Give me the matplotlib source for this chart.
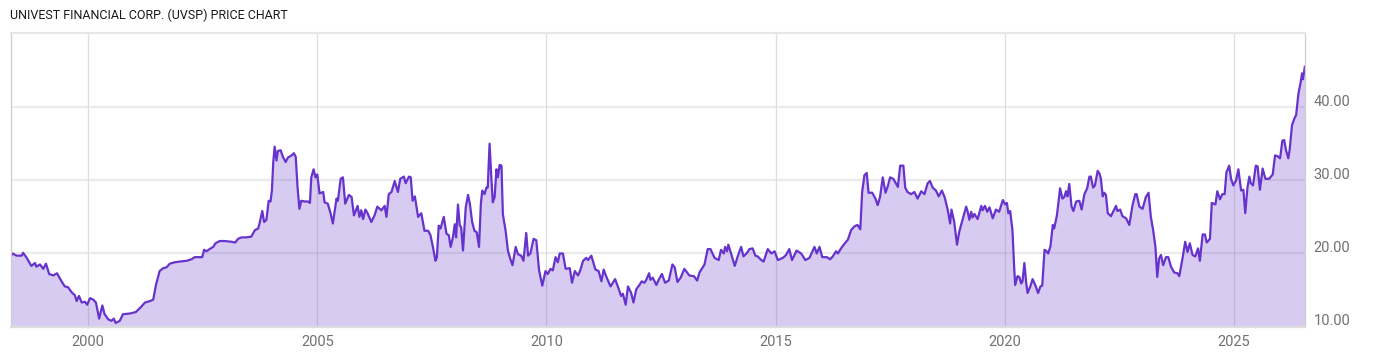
import matplotlib
matplotlib.use('Agg')
import matplotlib.pyplot as plt
from matplotlib.transforms import ScaledTranslation

# UVSP price history (decimal year, close)
years = [
    1998.31, 1998.35, 1998.44, 1998.55, 1998.58, 1998.66, 1998.76, 1998.84, 1998.87, 1998.95,
    1999.02, 1999.08, 1999.15, 1999.24, 1999.32, 1999.42, 1999.49, 1999.56, 1999.64, 1999.71,
    1999.75, 1999.80, 1999.86, 1999.93, 1999.98, 2000.04, 2000.11, 2000.17, 2000.24, 2000.31,
    2000.36, 2000.44, 2000.51, 2000.56, 2000.60, 2000.69, 2000.76, 2000.91, 2001.04, 2001.14,
    2001.24, 2001.35, 2001.42, 2001.48, 2001.56, 2001.64, 2001.71, 2001.78, 2001.89, 2002.00,
    2002.15, 2002.25, 2002.33, 2002.44, 2002.49, 2002.53, 2002.58, 2002.65, 2002.73, 2002.78,
    2002.87, 2002.98, 2003.13, 2003.21, 2003.27, 2003.35, 2003.45, 2003.56, 2003.64, 2003.71,
    2003.74, 2003.80, 2003.84, 2003.89, 2003.94, 2003.98, 2004.01, 2004.04, 2004.07, 2004.11,
    2004.14, 2004.20, 2004.25, 2004.31, 2004.36, 2004.44, 2004.49, 2004.53, 2004.57, 2004.61,
    2004.65, 2004.73, 2004.80, 2004.84, 2004.87, 2004.92, 2004.96, 2005.00, 2005.05, 2005.13,
    2005.16, 2005.23, 2005.29, 2005.34, 2005.42, 2005.45, 2005.51, 2005.56, 2005.61, 2005.69,
    2005.75, 2005.80, 2005.88, 2005.92, 2005.96, 2006.00, 2006.05, 2006.09, 2006.18, 2006.25,
    2006.31, 2006.40, 2006.47, 2006.51, 2006.56, 2006.62, 2006.69, 2006.76, 2006.81, 2006.89,
    2006.93, 2007.00, 2007.04, 2007.08, 2007.13, 2007.20, 2007.27, 2007.34, 2007.42, 2007.47,
    2007.52, 2007.58, 2007.61, 2007.65, 2007.69, 2007.76, 2007.82, 2007.87, 2007.91, 2007.96,
    2008.00, 2008.03, 2008.07, 2008.11, 2008.14, 2008.18, 2008.24, 2008.29, 2008.33, 2008.38,
    2008.43, 2008.48, 2008.53, 2008.57, 2008.60, 2008.65, 2008.69, 2008.72, 2008.76, 2008.80,
    2008.83, 2008.87, 2008.91, 2008.94, 2008.98, 2009.02, 2009.05, 2009.11, 2009.16, 2009.21,
    2009.26, 2009.33, 2009.38, 2009.45, 2009.50, 2009.56, 2009.60, 2009.65, 2009.72, 2009.78,
    2009.84, 2009.91, 2009.98, 2010.03, 2010.09, 2010.14, 2010.20, 2010.25, 2010.29, 2010.36,
    2010.42, 2010.51, 2010.56, 2010.62, 2010.69, 2010.74, 2010.80, 2010.87, 2010.91, 2010.98,
    2011.07, 2011.14, 2011.20, 2011.25, 2011.31, 2011.40, 2011.50, 2011.57, 2011.63, 2011.67,
    2011.73, 2011.78, 2011.85, 2011.90, 2011.96, 2012.03, 2012.08, 2012.14, 2012.18, 2012.24,
    2012.27, 2012.32, 2012.40, 2012.45, 2012.52, 2012.59, 2012.67, 2012.75, 2012.80, 2012.86,
    2012.93, 2013.01, 2013.12, 2013.22, 2013.29, 2013.34, 2013.45, 2013.52, 2013.58, 2013.67,
    2013.76, 2013.81, 2013.87, 2013.90, 2013.94, 2013.97, 2014.03, 2014.11, 2014.18, 2014.25,
    2014.30, 2014.38, 2014.43, 2014.50, 2014.56, 2014.61, 2014.69, 2014.74, 2014.83, 2014.91,
    2014.98, 2015.05, 2015.16, 2015.23, 2015.30, 2015.36, 2015.46, 2015.56, 2015.65, 2015.74,
    2015.85, 2015.90, 2015.96, 2016.02, 2016.12, 2016.19, 2016.25, 2016.32, 2016.36, 2016.43,
    2016.50, 2016.58, 2016.65, 2016.72, 2016.79, 2016.85, 2016.89, 2016.94, 2016.99, 2017.03,
    2017.11, 2017.18, 2017.23, 2017.28, 2017.34, 2017.40, 2017.45, 2017.50, 2017.57, 2017.67,
    2017.72, 2017.79, 2017.83, 2017.88, 2017.96, 2018.03, 2018.10, 2018.18, 2018.25, 2018.32,
    2018.37, 2018.43, 2018.50, 2018.56, 2018.63, 2018.69, 2018.76, 2018.81, 2018.84, 2018.90,
    2018.96, 2019.01, 2019.08, 2019.16, 2019.19, 2019.23, 2019.27, 2019.30, 2019.34, 2019.41,
    2019.49, 2019.52, 2019.57, 2019.62, 2019.67, 2019.74, 2019.81, 2019.88, 2019.96, 2020.01,
    2020.05, 2020.08, 2020.12, 2020.17, 2020.21, 2020.23, 2020.28, 2020.32, 2020.36, 2020.39,
    2020.43, 2020.47, 2020.50, 2020.56, 2020.61, 2020.68, 2020.73, 2020.78, 2020.82, 2020.87,
    2020.90, 2020.95, 2021.00, 2021.05, 2021.08, 2021.14, 2021.21, 2021.26, 2021.30, 2021.34,
    2021.37, 2021.41, 2021.46, 2021.50, 2021.56, 2021.63, 2021.68, 2021.74, 2021.80, 2021.85,
    2021.88, 2021.93, 2021.97, 2022.03, 2022.07, 2022.10, 2022.14, 2022.17, 2022.21, 2022.25,
    2022.32, 2022.39, 2022.43, 2022.46, 2022.52, 2022.57, 2022.65, 2022.72, 2022.79, 2022.85,
    2022.88, 2022.94, 2023.01, 2023.08, 2023.14, 2023.19, 2023.24, 2023.29, 2023.33, 2023.37,
    2023.41, 2023.46, 2023.52, 2023.57, 2023.63, 2023.70, 2023.77, 2023.81, 2023.88, 2023.94,
    2023.99, 2024.04, 2024.10, 2024.16, 2024.22, 2024.26, 2024.32, 2024.37, 2024.41, 2024.48,
    2024.52, 2024.60, 2024.64, 2024.70, 2024.75, 2024.80, 2024.84, 2024.90, 2024.94, 2024.99,
    2025.05, 2025.10, 2025.16, 2025.21, 2025.25, 2025.30, 2025.34, 2025.37, 2025.42, 2025.48,
    2025.52, 2025.57, 2025.63, 2025.69, 2025.77, 2025.85, 2025.90, 2025.95, 2026.01, 2026.06,
    2026.10, 2026.14, 2026.19, 2026.22, 2026.27, 2026.32, 2026.36, 2026.41, 2026.46, 2026.49,
    2026.51, 2026.55,
]
prices = [
    19.6, 20.0, 19.7, 19.7, 20.1, 19.4, 18.3, 18.7, 18.2, 18.5,
    17.9, 18.6, 17.2, 17.0, 17.3, 16.2, 15.5, 15.4, 14.7, 14.3,
    13.5, 14.2, 13.3, 13.4, 13.0, 13.9, 13.7, 13.3, 11.1, 12.9,
    11.7, 11.0, 10.8, 11.1, 10.5, 10.8, 11.7, 11.8, 12.0, 12.6,
    13.3, 13.5, 13.7, 15.7, 17.6, 18.0, 18.1, 18.6, 18.8, 18.9,
    19.0, 19.2, 19.5, 19.5, 19.5, 20.5, 20.3, 20.6, 20.9, 21.4,
    21.7, 21.7, 21.6, 21.5, 22.0, 22.2, 22.2, 22.3, 23.2, 23.4,
    24.1, 25.8, 24.3, 24.6, 27.2, 27.1, 28.6, 32.5, 34.6, 32.7,
    34.0, 34.1, 33.2, 32.5, 33.1, 33.4, 33.7, 33.2, 29.0, 26.1,
    27.2, 27.1, 27.1, 26.9, 30.4, 31.5, 30.4, 30.8, 28.2, 28.4,
    27.0, 26.8, 25.5, 24.1, 27.5, 27.2, 30.2, 30.4, 26.8, 28.0,
    27.7, 25.2, 26.5, 25.0, 25.9, 24.7, 26.0, 25.6, 24.3, 25.2,
    26.4, 25.9, 26.5, 25.0, 28.1, 28.4, 29.9, 28.4, 30.2, 30.5,
    29.6, 30.5, 30.4, 27.2, 27.8, 25.0, 25.5, 23.1, 23.1, 22.5,
    21.0, 19.0, 19.5, 23.8, 23.4, 25.0, 22.7, 22.5, 20.9, 22.2,
    24.0, 22.2, 26.7, 23.8, 23.6, 20.4, 26.3, 28.0, 26.8, 24.3,
    23.1, 22.9, 20.9, 26.8, 28.6, 28.1, 29.0, 29.0, 35.0, 30.2,
    27.0, 27.7, 31.5, 30.4, 32.1, 32.0, 25.4, 23.1, 20.4, 19.3,
    18.4, 20.9, 19.9, 19.7, 19.0, 22.8, 19.7, 20.0, 22.0, 21.8,
    17.7, 15.6, 17.6, 17.2, 17.9, 17.7, 19.5, 18.8, 20.0, 20.0,
    17.9, 18.0, 16.0, 17.6, 17.0, 17.7, 19.0, 19.4, 19.1, 19.7,
    17.8, 17.6, 16.2, 17.8, 16.8, 15.5, 16.5, 15.3, 14.2, 14.5,
    13.0, 15.5, 14.6, 13.3, 15.1, 15.7, 16.2, 16.0, 16.4, 17.3,
    16.4, 16.7, 15.7, 16.4, 17.2, 16.0, 16.3, 18.5, 18.1, 16.1,
    16.7, 17.9, 17.0, 16.9, 16.3, 17.4, 18.5, 20.6, 20.6, 19.4,
    19.1, 20.5, 20.0, 20.9, 20.3, 21.2, 20.0, 18.3, 19.7, 20.9,
    19.6, 20.1, 20.6, 20.7, 19.7, 19.6, 19.1, 18.9, 20.6, 20.0,
    20.3, 19.1, 19.4, 19.8, 20.6, 19.1, 20.4, 20.0, 19.1, 19.4,
    20.9, 20.0, 20.9, 19.5, 19.5, 19.2, 19.6, 20.3, 20.0, 20.7,
    21.3, 21.9, 23.2, 23.7, 23.9, 23.3, 28.4, 30.7, 31.0, 28.3,
    28.3, 27.5, 26.6, 27.7, 30.4, 28.3, 29.2, 30.4, 30.2, 29.1,
    32.0, 32.0, 29.0, 28.4, 28.1, 28.4, 27.5, 28.5, 28.1, 29.6,
    29.9, 29.0, 28.6, 27.8, 28.6, 27.7, 25.9, 24.1, 26.0, 24.3,
    21.2, 23.0, 24.6, 26.4, 25.8, 24.6, 25.7, 24.9, 25.4, 24.7,
    26.5, 25.9, 26.5, 25.7, 26.3, 24.8, 26.0, 25.7, 27.3, 26.7,
    26.9, 25.5, 25.8, 23.2, 17.8, 15.7, 16.9, 16.8, 15.9, 16.2,
    18.7, 16.0, 14.6, 15.5, 16.5, 15.5, 14.6, 15.5, 15.6, 20.5,
    20.4, 20.0, 21.0, 23.9, 23.4, 25.2, 28.9, 27.5, 27.7, 28.5,
    27.8, 29.5, 26.4, 25.8, 27.1, 27.2, 26.0, 28.1, 28.9, 30.5,
    30.5, 29.0, 29.3, 31.3, 30.9, 30.2, 27.8, 28.3, 28.0, 25.5,
    25.1, 26.0, 26.5, 25.8, 26.0, 25.1, 24.8, 23.9, 26.6, 28.1,
    28.1, 26.4, 26.1, 27.7, 28.3, 25.0, 23.2, 20.9, 16.8, 19.3,
    19.8, 18.4, 19.5, 19.5, 18.2, 17.4, 17.3, 16.9, 19.3, 21.6,
    20.2, 21.4, 19.8, 19.6, 20.7, 19.0, 22.6, 22.6, 21.5, 22.0,
    26.9, 26.7, 28.5, 27.4, 28.1, 28.1, 31.1, 32.0, 30.2, 29.3,
    30.0, 31.5, 28.6, 28.7, 25.5, 29.1, 30.5, 29.6, 29.3, 32.0,
    31.9, 28.7, 31.6, 30.2, 30.2, 30.8, 33.4, 33.3, 33.0, 35.4,
    35.5, 34.1, 33.0, 34.2, 37.5, 38.4, 38.9, 41.8, 43.4, 44.6,
    43.8, 45.5,
]

title = 'UNIVEST FINANCIAL CORP. (UVSP) PRICE CHART'
x_ticks = [2000, 2005, 2010, 2015, 2020, 2025]
y_ticks = [10, 20, 30, 40]

plt.rcParams['font.family'] = ['Roboto', 'DejaVu Sans']

fig = plt.figure(figsize=(14, 3.57), dpi=100)
fig.patch.set_facecolor('white')
ax = fig.add_axes([0.00764, 0.0849, 0.9247, 0.8235])

# grid first, fill is translucent so lines show through it
for yv in y_ticks[1:]:
    ax.axhline(yv, color='#ebebeb', linewidth=1.6, zorder=0)
for xv in x_ticks:
    ax.axvline(xv, color='#dedede', linewidth=0.9, zorder=0)

ax.fill_between(years, prices, 0, color='#6633cc', alpha=0.25, linewidth=0, zorder=1)
ax.plot(years, prices, color='#6633cc', linewidth=1.6, zorder=2, solid_joinstyle='round')

ax.set_xlim(1998.31, 2026.56)
ax.set_ylim(10, 50.16)

ax.set_xticks(x_ticks)
ax.set_xticklabels([str(v) for v in x_ticks])
ax.set_yticks(y_ticks)
ax.set_yticklabels([f'{v:.2f}' for v in y_ticks])
ax.yaxis.tick_right()
ax.tick_params(axis='both', length=0, colors='#737070', labelsize=10.5)
ax.tick_params(axis='x', pad=6)
ax.tick_params(axis='y', pad=6)

# value labels sit a little above their gridline
offset = ScaledTranslation(0, 7 / 100, fig.dpi_scale_trans)
for lbl in ax.get_yticklabels():
    lbl.set_transform(lbl.get_transform() + offset)

ax.spines['top'].set_color('#e6e6e6')
ax.spines['top'].set_linewidth(1.6)
ax.spines['bottom'].set_color('#dcdcdc')
ax.spines['bottom'].set_linewidth(1.6)
ax.spines['left'].set_color('#cfcfcf')
ax.spines['left'].set_linewidth(0.9)
ax.spines['right'].set_color('#cfcfcf')
ax.spines['right'].set_linewidth(0.9)

fig.text(10 / 1400, 1 - 15 / 357, title, fontsize=9.0, color='#1a1a1a', va='center', ha='left')

fig.savefig('out.png', dpi=100, facecolor='white')
